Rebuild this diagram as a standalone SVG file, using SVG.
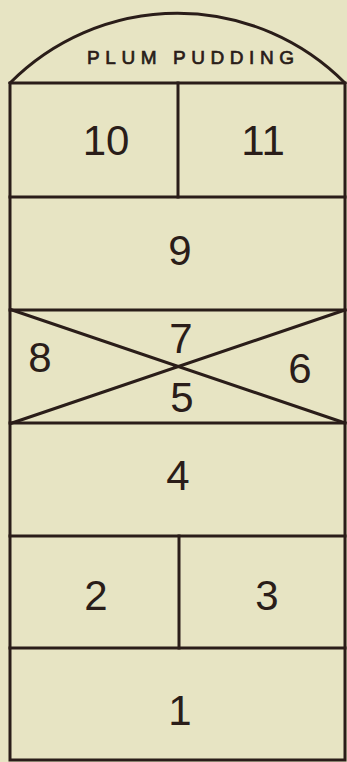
<svg xmlns="http://www.w3.org/2000/svg" width="347" height="762" viewBox="0 0 347 762">
<style>
.ln{stroke:#2a1d19;stroke-width:3;fill:none;stroke-linecap:square}
.num{font-family:"Liberation Sans",Arial,sans-serif;font-size:42px;fill:#2a1d19;text-anchor:middle}
.ttl{font-family:"Liberation Sans",Arial,sans-serif;font-size:19px;fill:#2a1d19;stroke:#2a1d19;stroke-width:0.7}
</style>
<rect x="0" y="0" width="347" height="762" fill="#e7e4c3"/>
<g id="frame">
<path class="ln" d="M10 83 A236 236 0 0 1 345 83"/>
<path class="ln" d="M10 83 H345 M10 83 V760 M345 83 V760 M10 760 H345"/>
</g>
<g id="top">
<text class="ttl" x="87" y="64" textLength="207" lengthAdjust="spacing">PLUM PUDDING</text>
</g>
<g id="cell-10"><text class="num" x="106" y="155">10</text></g>
<g id="cell-11"><text class="num" x="263" y="155">11</text></g>
<g id="cell-9"><text class="num" x="180" y="265">9</text></g>
<g id="cell-cross">
<path class="ln" d="M12 310 L345 423 M12 423 L345 310"/>
<text class="num" x="181" y="353">7</text>
<text class="num" x="40" y="372">8</text>
<text class="num" x="300" y="383">6</text>
<text class="num" x="182" y="412">5</text>
</g>
<g id="cell-4"><text class="num" x="178" y="490">4</text></g>
<g id="cell-2"><text class="num" x="96" y="610">2</text></g>
<g id="cell-3"><text class="num" x="267" y="610">3</text></g>
<g id="cell-1"><text class="num" x="180" y="725">1</text></g>
<g id="connectors">
<path class="ln" d="M178 83 V197"/>
<path class="ln" d="M10 197 H345"/>
<path class="ln" d="M10 310 H345"/>
<path class="ln" d="M10 423 H345"/>
<path class="ln" d="M10 536 H345"/>
<path class="ln" d="M179 536 V648"/>
<path class="ln" d="M10 648 H345"/>
</g>
</svg>
